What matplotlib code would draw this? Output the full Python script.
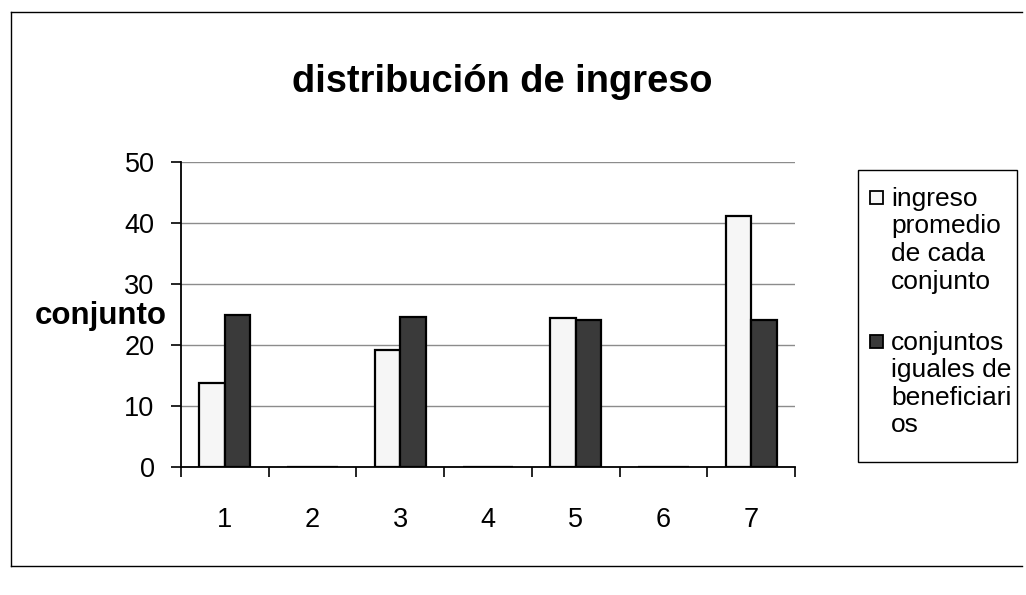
import matplotlib.pyplot as plt
import numpy as np
from matplotlib.lines import Line2D
from matplotlib.patches import Rectangle

plt.rcParams['font.family'] = ['Liberation Sans', 'DejaVu Sans']

# data
categorias = ['1', '2', '3', '4', '5', '6', '7']
ingreso_promedio = [13.8, 0, 19.2, 0, 24.4, 0, 41.1]
conjuntos_iguales = [24.9, 0, 24.6, 0, 24.1, 0, 24.1]
legend_labels = ['ingreso\npromedio\nde cada\nconjunto',
                 'conjuntos\niguales de\nbeneficiari\nos']

W, H = 1026, 595
fig = plt.figure(figsize=(W / 100, H / 100), dpi=100)
ax = fig.add_axes([181 / W, 1 - 467 / H, (795 - 181) / W, (467 - 162) / H])

x = np.arange(1, len(categorias) + 1)
bw = 0.29
ax.bar(x - bw / 2, ingreso_promedio, bw, color='#f6f6f6', edgecolor='black',
       linewidth=1.6, zorder=3)
ax.bar(x + bw / 2, conjuntos_iguales, bw, color='#3a3a3a', edgecolor='black',
       linewidth=1.6, zorder=3)

ax.set_xlim(0.5, 7.5)
ax.set_ylim(0, 50)
ax.set_yticks(range(0, 51, 10))
ax.yaxis.grid(True, color='#8c8c8c', linewidth=1.0, zorder=0)
ax.set_xticks(np.arange(0.5, 7.6, 1.0))
ax.set_xticklabels([])
ax.set_xticks(x, minor=True)
ax.set_xticklabels(categorias, minor=True)
ax.tick_params(axis='x', which='major', direction='out', length=7, width=1.2)
ax.tick_params(axis='x', which='minor', length=0, pad=29, labelsize=19.5)
ax.tick_params(axis='y', direction='out', length=7, width=1.2, pad=12, labelsize=19.5)
for s in ['top', 'right']:
    ax.spines[s].set_visible(False)
ax.spines['left'].set_linewidth(1.3)
ax.spines['bottom'].set_linewidth(1.3)

fig.text(502 / W, 1 - 82 / H, 'distribución de ingreso', ha='center', va='center',
         fontsize=27.4, fontweight='bold')
fig.text(101 / W, 1 - 316 / H, 'conjunto', ha='center', va='center',
         fontsize=22.5, fontweight='bold')

# legend box drawn in figure pixels
def px(xp, yp):
    return xp / W, 1 - yp / H

lx0, ly0, lx1, ly1 = 858, 170, 1017, 462
fig.add_artist(Rectangle(px(lx0, ly1), (lx1 - lx0) / W, (ly1 - ly0) / H,
                         transform=fig.transFigure, facecolor='white',
                         edgecolor='black', linewidth=1.0))
faces = ['#f6f6f6', '#3a3a3a']
first_baselines = [206, 350]
for lab, fc, b0 in zip(legend_labels, faces, first_baselines):
    fig.add_artist(Rectangle(px(870, b0 - 2), 13 / W, 13 / H,
                             transform=fig.transFigure, facecolor=fc,
                             edgecolor='black', linewidth=1.3))
    for i, line in enumerate(lab.split('\n')):
        fig.text(*px(891, b0 + 27.5 * i), line, ha='left', va='baseline',
                 fontsize=19)

# outer frame of the scanned chart
fig.add_artist(Line2D([11 / W, 11 / W], [1 - 12 / H, 1 - 566 / H], color='black', lw=1))
fig.add_artist(Line2D([11 / W, 1022 / W], [1 - 12 / H, 1 - 12 / H], color='black', lw=1))
fig.add_artist(Line2D([11 / W, 1022 / W], [1 - 566 / H, 1 - 566 / H], color='black', lw=1))

fig.savefig('out.png', dpi=100)
